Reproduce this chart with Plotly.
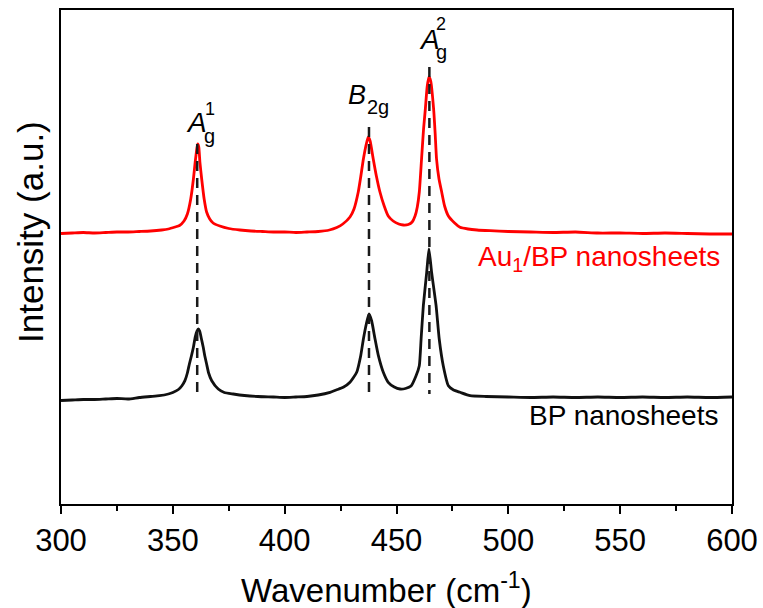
import plotly.graph_objects as go

# ---------------- data ----------------
wavenumber_red = [300, 305, 310, 315, 320, 325, 330, 335, 340, 345, 348, 351, 353, 355, 356.5, 358,
                  359.2, 360, 360.6, 361.1, 361.6, 362.1, 362.9, 364, 365.1, 366.5, 368, 371, 375, 380,
                  385, 390, 395, 400, 405, 410, 415, 420, 423.3, 426, 429.2, 431, 432.9, 434, 435.2,
                  436.5, 437.4, 438.2, 439.6, 441, 442.6, 444.5, 446.3, 448.5, 451, 453, 455.3, 457,
                  458.3, 459.3, 460.2, 461.2, 462.1, 462.9, 463.7, 464.5, 465.3, 466.6, 467.3, 467.9,
                  469, 470.2, 471.5, 473.2, 476, 478.4, 482, 486, 491.8, 500, 510, 520, 530, 540, 550,
                  560, 570, 580, 590, 600]
intensity_red = [270.5, 271, 271.5, 271, 271.5, 272, 272, 272.5, 273, 274, 275, 277, 278.5, 283, 290, 305,
                 325, 342, 353, 360, 357, 342, 325, 305, 292, 285, 281, 278, 275.5, 274,
                 273, 272.5, 272, 272, 271.5, 272, 272.5, 274, 276.5, 280, 287, 295, 312, 327, 345,
                 360, 367, 363, 345, 328, 312, 298, 288, 283, 280, 279, 279.5, 282,
                 288, 297, 312, 345, 375, 395, 417, 427, 423, 395, 370, 345,
                 325, 312, 298, 288, 281, 276.7, 275, 274, 273.3, 272.5, 272, 271.5, 272, 271, 271,
                 270.5, 271, 270.5, 270, 270]

wavenumber_black = [300, 305, 310, 315, 320, 325, 330, 335, 340, 344, 348, 350, 352.5, 354, 355.4, 356.5,
                    357.4, 358.3, 359.2, 360, 360.8, 361.4, 362, 362.8, 363.6, 364.3, 365.1, 366, 367.4,
                    370.3, 373, 377, 382, 388, 395, 400, 405, 410, 415, 420.3, 423, 426.2, 429.2, 432.2,
                    434, 435.2, 436.5, 437.7, 438.9, 440.4, 441.9, 444.1, 446.3, 449, 451.6, 454, 456.5,
                    458.7, 460.2, 461, 462, 463.5, 464.5, 465.7, 467.7, 469.1, 470.9, 473.2, 475.5,
                    478.4, 482.9, 490, 500, 510, 520, 530, 540, 550, 560, 570, 580, 590, 600]
intensity_black = [103.5, 104, 104.5, 104.5, 105, 105.5, 105, 106.5, 107.5, 108.3, 110, 111.5, 114.5, 118, 123.3, 131,
                   140, 148, 156.7, 167, 173, 175, 173, 165, 156.7, 148, 140, 131, 123.3,
                   115, 111.5, 110, 108.5, 107.5, 107, 106.5, 107, 107.5, 109, 111.7, 114, 116.7, 121.7, 131.7,
                   148.3, 165, 180, 190, 183, 165, 148.3, 131.7, 121.7, 117, 115, 115.5, 118,
                   128, 138.3, 165, 198.3, 231.7, 255, 231.7, 198.3, 165, 138.3, 118.3, 114,
                   111.7, 108.3, 107.5, 107, 106.5, 107, 106.5, 107, 106.5, 107, 106.5, 107, 106.5, 107]

peak_positions = [360.9, 437.7, 464.7]
dash_tops = [360, 377, 437]
dash_bottom = 110

x_ticks = [300, 350, 400, 450, 500, 550, 600]
x_minor_ticks = [325, 375, 425, 475, 525, 575]
x_range = [300, 600]
y_range = [0, 494]

FONT = "Liberation Sans, Arial, sans-serif"

fig = go.Figure()
fig.add_trace(go.Scatter(x=wavenumber_black, y=intensity_black, mode="lines",
                         line=dict(color="#111111", width=2.8, shape="spline", smoothing=0.5),
                         showlegend=False, hoverinfo="skip"))
fig.add_trace(go.Scatter(x=wavenumber_red, y=intensity_red, mode="lines",
                         line=dict(color="#ff0000", width=2.8, shape="spline", smoothing=0.5),
                         showlegend=False, hoverinfo="skip"))

for xp, top in zip(peak_positions, dash_tops):
    fig.add_shape(type="line", xref="x", yref="y", x0=xp, x1=xp, y0=top, y1=dash_bottom,
                  line=dict(color="#1a1a1a", width=2.5, dash="10px,7px"))

def ann(text, x, y, size, color="black", xanchor="center", xref="x", yref="y"):
    fig.add_annotation(text=text, x=x, y=y, xref=xref, yref=yref, showarrow=False,
                       font=dict(family=FONT, size=size, color=color),
                       xanchor=xanchor, yanchor="middle")

# peak labels
ann("<i>A</i>", 355.0, 382, 28, xanchor="left")
ann("g", 366.6, 368, 20)
ann("1", 366.6, 395, 18)
ann("<i>B</i>", 427.4, 409, 27, xanchor="left")
ann("2g", 436.0, 397, 20, xanchor="left")
ann("<i>A</i>", 459.2, 465, 28, xanchor="left")
ann("g", 470.3, 452, 20)
ann("2", 469.9, 480, 18)

# series labels
ann("Au<sub>1</sub>/BP nanosheets", 0.985, (504 - 258) / 494, 28, color="#ff0000",
    xanchor="right", xref="paper", yref="paper")
ann("BP nanosheets", 0.982, (504 - 415) / 494, 28, xanchor="right", xref="paper", yref="paper")

# axis titles
fig.add_annotation(text="Wavenumber (cm<sup>-1</sup>)", x=(386 - 61) / 671, y=(504 - 588) / 494,
                   xref="paper", yref="paper", showarrow=False,
                   font=dict(family=FONT, size=33, color="black"), xanchor="center", yanchor="middle")
fig.add_annotation(text="Intensity (a.u.)", x=(30 - 61) / 671, y=(504 - 232) / 494,
                   xref="paper", yref="paper", showarrow=False, textangle=-90,
                   font=dict(family=FONT, size=35, color="black"), xanchor="center", yanchor="middle")

fig.update_layout(
    width=763, height=608,
    margin=dict(l=61, r=31, t=10, b=104, autoexpand=False),
    paper_bgcolor="white", plot_bgcolor="white",
    font=dict(family=FONT, color="black"),
    xaxis=dict(range=x_range, tickmode="array", tickvals=x_ticks, ticktext=[str(v) for v in x_ticks],
               showgrid=False, zeroline=False, showline=True, linecolor="black", linewidth=2.2,
               mirror=True, ticks="outside", ticklen=8, tickwidth=2, tickcolor="black",
               automargin=False,
               tickfont=dict(family=FONT, size=31, color="black"),
               minor=dict(ticks="outside", ticklen=5, tickwidth=2, tickcolor="black",
                          tickvals=x_minor_ticks)),
    yaxis=dict(range=y_range, showgrid=False, zeroline=False, showline=True, linecolor="black",
               linewidth=2.2, mirror=True, ticks="", showticklabels=False, automargin=False),
)

fig.write_html("out.html")
